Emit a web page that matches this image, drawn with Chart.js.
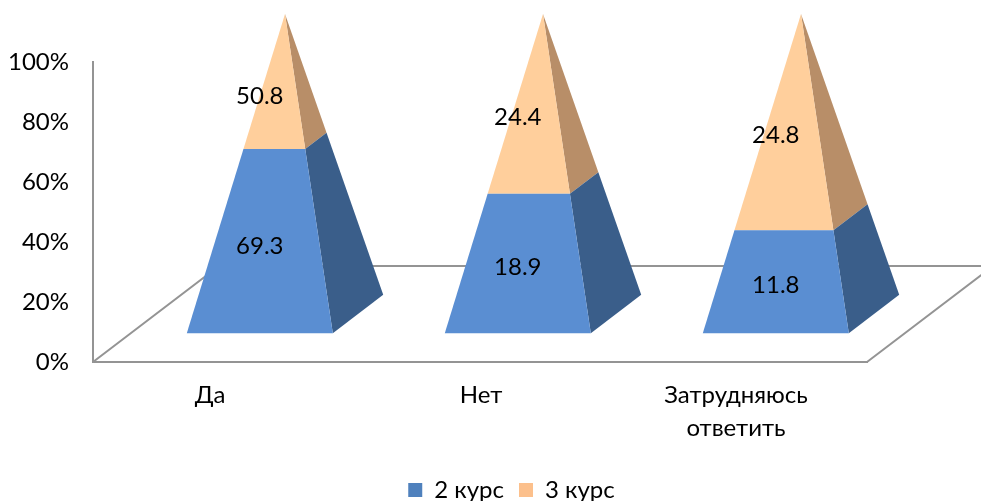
<!DOCTYPE html>
<html>
<head>
<meta charset="utf-8">
<style>
html, body { margin: 0; padding: 0; background: #fff; }
#wrap { width: 981px; height: 501px; }
</style>
<script src="https://cdn.jsdelivr.net/npm/chart.js@4"></script>
</head>
<body>
<div id="wrap"><canvas id="chart"></canvas></div>
<script>
const categories = ['Да', 'Нет', ['Затрудняюсь', 'ответить']];
const seriesNames = ['2 курс', '3 курс'];
const course2 = [69.3, 18.9, 11.8];
const course3 = [50.8, 24.4, 24.8];
const yTicks = [0, 20, 40, 60, 80, 100];

const FONT = 'Lato';
const FONT_SIZE = 24;
const AXIS_COLOR = '#949494';
const FLOOR_DX = 126;
const FLOOR_DY = -96;
const PYRAMID_DEPTH = 0.4;   // part of the floor depth taken by the base
const LABEL_SHIFT = [-12, 1, -2];   // x labels do not sit on the category centre

// 100% stacking: each column is shown as share of its own total
const share = (a, b) => a.map((v, i) => v / (v + b[i]) * 100);

// bar controller that draws each stacked segment as a slice of a 3D pyramid
class PyramidController extends Chart.BarController {
    draw() {
        const ctx = this.chart.ctx;
        const yScale = this.chart.scales.y;
        const ds = this.getDataset();
        const meta = this.getMeta();
        const full = yScale.bottom - yScale.top;
        const halfDx = FLOOR_DX * PYRAMID_DEPTH / 2;
        const halfDy = FLOOR_DY * PYRAMID_DEPTH / 2;

        meta.data.forEach((el, i) => {
            const cx = el.x + FLOOR_DX / 2;
            const shiftY = FLOOR_DY / 2;
            const hw = el.width / 2;

            // cross-section of the pyramid at pixel py
            const section = (py) => ({
                y: py + shiftY,
                k: 1 - (yScale.bottom - py) / full
            });
            const lo = section(el.base);
            const hi = section(el.y);
            const frontL = (s) => [cx - s.k * (hw + halfDx), s.y - s.k * halfDy];
            const frontR = (s) => [cx + s.k * (hw - halfDx), s.y - s.k * halfDy];
            const backR = (s) => [cx + s.k * (hw + halfDx), s.y + s.k * halfDy];

            const poly = (pts, color) => {
                ctx.beginPath();
                pts.forEach((p, n) => n ? ctx.lineTo(p[0], p[1]) : ctx.moveTo(p[0], p[1]));
                ctx.closePath();
                ctx.fillStyle = color;
                ctx.fill();
            };
            poly([frontR(lo), backR(lo), backR(hi), frontR(hi)], ds.sideColor);
            poly([frontL(lo), frontR(lo), frontR(hi), frontL(hi)], ds.frontColor);

            ctx.save();
            ctx.fillStyle = '#000';
            ctx.font = FONT_SIZE + 'px ' + FONT;
            ctx.textAlign = 'center';
            ctx.textBaseline = 'middle';
            ctx.fillText(ds.rawValues[i].toFixed(1), cx - halfDx, (el.y + el.base) / 2 + shiftY - halfDy);
            ctx.restore();
        });
    }
}
PyramidController.id = 'pyramid';
PyramidController.defaults = Chart.BarController.defaults;
Chart.register(PyramidController);

const floorPlugin = {
    id: 'floor',
    afterLayout(chart) {
        // legend sits to the right of the picture centre
        chart.legend.left = 42;
        chart.legend.right = chart.width;
    },
    beforeDatasetsDraw(chart) {
        const { ctx, chartArea: a } = chart;
        ctx.save();
        ctx.strokeStyle = AXIS_COLOR;
        ctx.lineWidth = 2;
        ctx.beginPath();
        ctx.moveTo(a.left, a.bottom);
        ctx.lineTo(a.left + FLOOR_DX, a.bottom + FLOOR_DY);
        ctx.lineTo(a.right + FLOOR_DX, a.bottom + FLOOR_DY);
        ctx.lineTo(a.right, a.bottom);
        ctx.stroke();
        ctx.restore();
    },
    beforeDraw(chart) {
        chart.scales.x.getLabelItems().forEach((item, i) => {
            if (!item.shifted) {
                item.options.translation[0] += LABEL_SHIFT[i];
                item.shifted = true;
            }
        });
    }
};

new Chart(document.getElementById('chart'), {
    type: 'pyramid',
    data: {
        labels: categories,
        datasets: [{
            label: seriesNames[0],
            data: share(course2, course3),
            rawValues: course2,
            backgroundColor: '#4F81BD',
            frontColor: '#5A8ED2',
            sideColor: '#3A5E8A',
            clip: false
        }, {
            label: seriesNames[1],
            data: share(course3, course2),
            rawValues: course3,
            backgroundColor: '#FCC08C',
            frontColor: '#FFCF9C',
            sideColor: '#B88E68',
            clip: false
        }]
    },
    options: {
        responsive: true,
        maintainAspectRatio: false,
        animation: false,
        layout: { padding: { top: 62, left: 0, right: 114, bottom: -11 } },
        categoryPercentage: 1,
        barPercentage: 0.566,
        plugins: {
            tooltip: { enabled: false },
            legend: {
                position: 'bottom',
                labels: {
                    boxWidth: 14,
                    boxHeight: 14,
                    padding: 15,
                    color: '#000',
                    font: { family: FONT, size: FONT_SIZE }
                }
            }
        },
        scales: {
            x: {
                stacked: true,
                grid: { display: false },
                border: { color: AXIS_COLOR, width: 2 },
                ticks: {
                    color: '#000',
                    padding: 9,
                    maxRotation: 0,
                    font: { family: FONT, size: FONT_SIZE, lineHeight: 1.38 }
                },
                afterFit(scale) { scale.height = 101; }
            },
            y: {
                stacked: true,
                min: 0,
                max: 100,
                afterBuildTicks(scale) { scale.ticks = yTicks.map(v => ({ value: v })); },
                grid: { display: false, drawTicks: false },
                border: { color: AXIS_COLOR, width: 2 },
                ticks: {
                    color: '#000',
                    padding: 24,
                    font: { family: FONT, size: FONT_SIZE },
                    callback: v => v + '%'
                },
                afterFit(scale) { scale.width = 93; }
            }
        }
    },
    plugins: [floorPlugin]
});
</script>
</body>
</html>
